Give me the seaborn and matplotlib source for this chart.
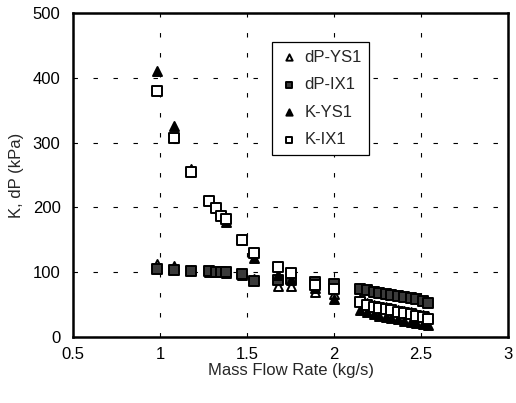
import numpy as np
import pandas as pd
import seaborn as sns
import matplotlib.pyplot as plt
from matplotlib.ticker import MultipleLocator

# mass flow rate (kg/s)
flow = [0.98, 1.08, 1.18, 1.28, 1.32, 1.35, 1.38, 1.47, 1.54, 1.68, 1.75, 1.89, 2.00,
        2.15, 2.19, 2.23, 2.26, 2.30, 2.33, 2.37, 2.40, 2.44, 2.47, 2.51, 2.54]

# kPa values
dp_ys1 = [112, 109, 104, 101, 100, 100, 99, 96, 90, 78, 78, 70, 66,
          58, 53, 50, 48, 46, 44, 42, 40, 38, 36, 34, 32]
dp_ix1 = [105, 103, 102, 102, 101, 100, 100, 97, 86, 88, 90, 85, 82,
          74, 73, 70, 68, 67, 65, 64, 62, 60, 58, 56, 53]
k_ys1 = [410, 326, 260, 211, 200, 188, 178, 150, 122, 95, 88, 76, 58,
         42, 38, 35, 33, 31, 29, 27, 25, 23, 21, 20, 18]
k_ix1 = [379, 307, 254, 210, 199, 187, 182, 150, 129, 108, 99, 80, 74,
         54, 50, 47, 45, 43, 41, 39, 37, 35, 33, 31, 28]

sns.set_style("white")
plt.rcParams['font.family'] = ['Liberation Sans', 'DejaVu Sans']

fig = plt.figure(figsize=(5.16, 4.03), dpi=100)
ax = fig.add_axes([0.1415, 0.1638, 0.843, 0.804])

series = [
    ('dP-YS1', dp_ys1, '^', 'white'),
    ('dP-IX1', dp_ix1, 's', '#3a3a3a'),
    ('K-YS1', k_ys1, '^', 'black'),
    ('K-IX1', k_ix1, 's', 'white'),
]
for name, vals, mk, fc in series:
    sns.scatterplot(x=flow, y=vals, marker=mk, color=fc, edgecolor='black',
                    linewidth=1.4, s=42, label=name, ax=ax, zorder=3)

ax.set_xlim(0.5, 3)
ax.set_ylim(0, 500)
ax.xaxis.set_major_locator(MultipleLocator(0.5))
ax.xaxis.set_minor_locator(MultipleLocator(0.1))
ax.yaxis.set_major_locator(MultipleLocator(100))
ax.yaxis.set_minor_locator(MultipleLocator(20))
ax.set_xticks([0.5, 1, 1.5, 2, 2.5, 3])
ax.set_xticklabels(['0.5', '1', '1.5', '2', '2.5', '3'])
ax.tick_params(which='major', direction='in', length=5, width=1, labelsize=12, colors='black')
ax.tick_params(axis='y', which='major', pad=9)
ax.tick_params(axis='x', which='major', pad=7)
ax.tick_params(which='minor', direction='in', length=3, width=0.8)
ax.grid(True, which='major', linestyle=(0, (4, 14)), color='black', linewidth=0.8)
for sp in ax.spines.values():
    sp.set_linewidth(1.8)
    sp.set_color('black')

ax.set_xlabel('Mass Flow Rate (kg/s)', fontsize=12, labelpad=1)
ax.set_ylabel('K, dP (kPa)', fontsize=12, labelpad=6)

leg = ax.legend(loc='upper left', bbox_to_anchor=(0.457, 0.91), borderaxespad=0,
                fontsize=12, frameon=True, fancybox=False, edgecolor='black',
                framealpha=1, handlelength=1.2, handletextpad=0.3, borderpad=0.45,
                labelspacing=0.75, markerscale=0.7)
leg.get_frame().set_linewidth(0.9)

fig.savefig('out.png', dpi=100)
